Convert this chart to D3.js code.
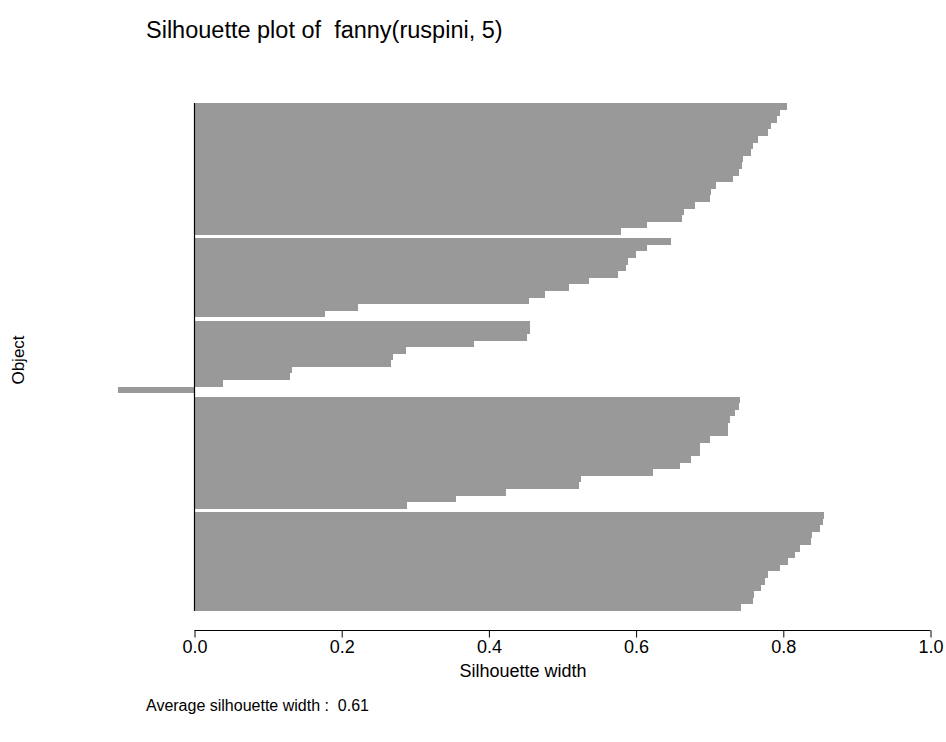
<!DOCTYPE html>
<html>
<head>
<meta charset="utf-8">
<script src="https://cdn.jsdelivr.net/npm/d3@7"></script>
<style>
  html, body { margin: 0; padding: 0; background: #ffffff; }
  svg { display: block; }
  text { font-family: "Liberation Sans", Arial, Helvetica, sans-serif; fill: #000; }
</style>
</head>
<body>
<svg id="chart" width="946" height="742"></svg>
<script>
// ---- data (silhouette widths, ordered top to bottom within each cluster) ----
const clusters = [1, 2, 3, 4, 5];
const cluster1 = [0.806, 0.796, 0.792, 0.784, 0.780, 0.766, 0.760, 0.757, 0.746, 0.745,
                  0.741, 0.732, 0.709, 0.702, 0.701, 0.681, 0.666, 0.663, 0.616, 0.580];
const cluster2 = [0.648, 0.616, 0.601, 0.589, 0.587, 0.576, 0.537, 0.510, 0.477, 0.455, 0.223, 0.178];
const cluster3 = [0.457, 0.456, 0.453, 0.380, 0.288, 0.271, 0.267, 0.133, 0.131, 0.039, -0.103];
const cluster4 = [0.742, 0.740, 0.735, 0.728, 0.726, 0.725, 0.701, 0.688, 0.687, 0.675,
                  0.661, 0.624, 0.526, 0.523, 0.424, 0.356, 0.289];
const cluster5 = [0.856, 0.854, 0.851, 0.839, 0.838, 0.823, 0.816, 0.807, 0.796, 0.780,
                  0.776, 0.770, 0.761, 0.760, 0.743];
const xTicks = [0, 0.2, 0.4, 0.6, 0.8, 1.0];
const titleText = "Silhouette plot of  fanny(ruspini, 5)";
const xLabel = "Silhouette width";
const yLabel = "Object";
const avgWidth = 0.61;

// ---- build bar table (R barplot: width 1, space 0 within cluster, 0.5 between) ----
const groups = [cluster1, cluster2, cluster3, cluster4, cluster5];
const bars = [];
let pos = 0;
groups.forEach((g, gi) => {
  if (gi > 0) pos += 0.5;
  g.forEach(v => { bars.push({ cluster: clusters[gi], value: v, start: pos }); pos += 1; });
});
const totalUnits = pos;

const svg = d3.select("#chart");
const x = d3.scaleLinear().domain([0, 1]).range([194, 930]);
const y = d3.scaleLinear().domain([0, totalUnits]).range([103, 611]);
const axisY = 630;
const textLeft = 146;
const xLabelCenter = 523;
const yLabelCenter = 360;

// bars
svg.append("g").selectAll("rect").data(bars).join("rect")
  .attr("x", d => x(Math.min(0, d.value)))
  .attr("width", d => Math.abs(x(d.value) - x(0)))
  .attr("y", d => y(d.start))
  .attr("height", d => y(d.start + 1) - y(d.start))
  .attr("fill", "#999999")
  .attr("shape-rendering", "crispEdges");

// zero line
svg.append("line")
  .attr("x1", x(0) + 0.5).attr("x2", x(0) + 0.5)
  .attr("y1", y(0)).attr("y2", y(totalUnits))
  .attr("stroke", "#000").attr("stroke-width", 1.2);

// x axis
const axis = d3.axisBottom(x).tickValues(xTicks).tickFormat(d3.format(".1f")).tickSize(7).tickPadding(3);
const ax = svg.append("g").attr("transform", `translate(0.5,${axisY + 0.5})`).call(axis);
ax.select(".domain").attr("stroke", "#000").attr("d", `M${x(0)},0H${x(1)}`);
ax.selectAll(".tick line").attr("stroke", "#000");
ax.selectAll(".tick text").attr("font-size", 18).attr("font-family", "Liberation Sans, Arial, sans-serif").attr("fill", "#000");

// title
svg.append("text").attr("x", textLeft).attr("y", 38).attr("font-size", 23.5).text(titleText)
  .style("white-space", "pre").attr("xml:space", "preserve");

// x label
svg.append("text").attr("x", xLabelCenter).attr("y", 677).attr("text-anchor", "middle")
  .attr("font-size", 18).text(xLabel);

// y label
svg.append("text").attr("transform", `translate(24,${yLabelCenter}) rotate(-90)`).attr("text-anchor", "middle")
  .attr("font-size", 17).text(yLabel);

// sub
svg.append("text").attr("x", textLeft).attr("y", 711).attr("font-size", 16)
  .attr("xml:space", "preserve").style("white-space", "pre")
  .text("Average silhouette width :  " + avgWidth.toFixed(2));
</script>
</body>
</html>
